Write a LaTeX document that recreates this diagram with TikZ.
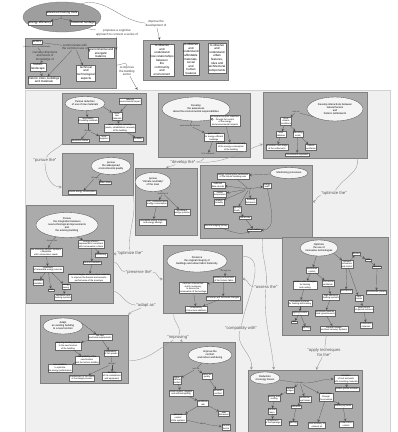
\documentclass[tikz,border=0pt]{standalone}
\usepackage{fontspec}
\setmainfont{Liberation Sans}
\usetikzlibrary{arrows,shapes}
\tikzstyle{field} = [draw=black!18, fill=black!6, line width=0.4pt, inner sep=0pt]
\tikzstyle{panel} = [draw=black!50, fill=black!33, line width=0.3pt, inner sep=0pt]
\tikzstyle{hub} = [ellipse, draw=black!55, fill=black!38, line width=0.3pt, inner sep=0pt]
\tikzstyle{goal} = [ellipse, draw=black!65, fill=black!4, line width=0.35pt, inner sep=0pt]
\tikzstyle{goaltext} = [align=center, inner sep=0pt, font=\fontsize{2.6}{3}\selectfont]
\tikzstyle{concept} = [draw=black!60, fill=white, line width=0.2pt, align=center, inner sep=0.6pt, font=\fontsize{2.2}{2.6}\selectfont]
\tikzstyle{bigconcept} = [concept, inner sep=0.8pt, font=\fontsize{3}{3.6}\selectfont]
\tikzstyle{link} = [align=center, inner sep=0.3pt, text=black!80, font=\fontsize{2}{2.4}\selectfont]
\tikzstyle{biglink} = [link, font=\fontsize{3}{3.6}\selectfont]
\tikzstyle{verb} = [align=center, inner sep=0.5pt, text=black!65, font=\fontsize{4.2}{5}\selectfont]
\tikzstyle{rel} = [draw=black!70, line width=0.2pt, ->, >=stealth]
\tikzstyle{tie} = [draw=black!70, line width=0.2pt]
\tikzstyle{wire} = [draw=black!40, line width=0.35pt, >=stealth]

\begin{document}
\begin{tikzpicture}[x=1pt,y=-1pt]
\useasboundingbox (0,0) rectangle (398,432);
\fill[white] (0,0) rectangle (398,432);

% top part
\node[hub, minimum width=78pt, minimum height=30pt] (core) at (62,17) {};
\node[bigconcept] (tools) at (62,13) {advanced training tools};
\node[bigconcept] (eff) at (40,23) {energy efficiency};
\node[bigconcept] (her) at (83,23) {historical heritage};
\node[link] (for) at (61,18.5) {for};
\draw[tie] (tools) -- (for);
\draw[rel] (for) -- (eff);
\draw[rel] (for) -- (her);

\node[biglink] (proposes) at (117,33) {proposes a cognitive\\approach to connect a series of};
\node[biglink] (improve) at (156,24) {improve the\\development of};

\node[panel, minimum width=91pt, minimum height=50pt] (left) at (70.5,63) {};
\node[panel, minimum width=85pt, minimum height=40pt] (right) at (185.5,60) {};

\node[bigconcept] (actors) at (37,42) {actors};
\node[link] (users) at (37,46.5) {(owners, users, professionals)};
\node[biglink] (communicate) at (75,47) {communicate with\\the common use of};
\node[biglink] (consider) at (45,56) {consider directions\\and levels of\\knowledge of};
\node[bigconcept] (landscape) at (38,67) {historic\\landscape};
\node[bigconcept] (cities) at (44,80) {historic cities, buildings\\and materials};
\node[bigconcept] (technical) at (86,73) {technical\\and\\technological\\aspects};
\node[bigconcept] (balance) at (101,53) {environmental and\\energetic\\balance};
\draw[tie] (actors) -- (communicate);
\draw[tie] (users) -- (consider);
\draw[rel] (consider) -- (landscape);
\draw[rel] (landscape) -- (cities);
\draw[rel] (communicate) -- (cities);
\draw[rel] (communicate) -- (technical);
\draw[rel] (communicate) -- (balance);

\node[bigconcept] (obsA) at (162,60) {to observe\\and\\understand\\how relationships\\between\\the\\community\\and\\environment};
\node[bigconcept] (obsB) at (191,59) {to observe\\and\\understand\\affordable\\materials,\\social\\and\\human\\features};
\node[bigconcept] (obsC) at (217,58) {to observe\\and\\understand\\urban\\features,\\rules and\\architectural\\components};

\node[field, minimum width=365pt, minimum height=346pt] (field) at (207.5,263) {};
\node[biglink] (sector) at (127,71) {to improve\\the building\\sector};

\draw[tie] (core.-25) -- (proposes);
\draw[rel] (proposes) -- (left.16);
\draw[tie] (core.35) to[out=15,in=175] (improve);
\draw[rel] (improve) -- (right.142);
\draw[tie] (left.-3) to[out=10,in=90] (sector);
\draw[rel] (sector) -- (field.112.7);

% panel A
\node[panel, minimum width=84pt, minimum height=51pt] (pA) at (104,118.5) {};
\node[goal, minimum width=40pt, minimum height=14pt] (gA) at (85,103.5) {};
\node[goaltext] (tA) at (gA) {Pursue reduction\\of use of raw materials};
\node[concept] (a1) at (130,101) {reduced\\environmental impact};
\node[concept] (a2) at (117,116) {local\\raw\\materials};
\node[concept] (a3) at (120,128) {reuse, recycle, recovery\\(waste, rehabilitation, renewal)\\of the building};
\node[concept] (a4) at (88,120) {recyclability\\of building materials};
\node[link] (a4by) at (88,131) {through};
\node[concept] (a5) at (80,140.5) {demolition waste};
\node[concept] (a6) at (104,138) {local\\suppliers};
\node[concept] (a7) at (138,139) {durability};
\draw[rel] (gA) -- (a4);
\draw[rel] (gA.-10) -- (a2);
\draw[rel] (a1) -- (a2);
\draw[rel] (a2) -- (a3);
\draw[rel] (a3) -- (a7);
\draw[tie] (a4) -- (a4by);
\draw[rel] (a4by) -- (a5);
\draw[rel] (a4by) -- (a6);

% panel B
\node[panel, minimum width=92pt, minimum height=64pt] (pB) at (204,125) {};
\node[goal, minimum width=68pt, minimum height=24pt] (gB) at (196,109) {};
\node[goaltext] (tB) at (gB) {Develop\\the awareness\\about the environmental responsibilities};
\node[link] (bvia) at (190,126) {environmental choices};
\node[concept] (b1) at (225,121) {ecological footprint reduction\\through the control\\of the energy\\and environmental impacts};
\node[concept] (b2) at (214,137) {green labels\\for energy-efficient\\buildings};
\node[concept] (b3) at (231,147) {LCA (Life Cycle Assessment)\\of the energy consumption\\of the building};
\node[link] (bstd) at (208,154) {LCA standards};
\draw[rel] (gB.-30) -- (b1);
\draw[tie] (gB) -- (bvia);
\draw[rel] (bvia) -- (b2);
\draw[rel] (b1) -- (b3);
\draw[rel] (b2) -- (bstd);

% panel C
\node[panel, minimum width=104pt, minimum height=66pt] (pC) at (315,125) {};
\node[goal, minimum width=56pt, minimum height=24pt] (gC) at (335,109) {};
\node[goaltext] (tC) at (gC) {Develop interactions between\\natural factors\\and\\historic settlements};
\node[link] (csuch) at (296,112) {such as};
\node[concept] (c1) at (286,121) {local\\climatic\\conditions};
\node[concept] (c2) at (281,134) {solar\\radiation};
\node[concept] (c3) at (298,134) {prevailing\\winds};
\node[concept] (c4) at (277,147) {orientation and shape\\of the settlements};
\node[concept] (c5) at (311,147) {natural\\ventilation};
\node[concept] (c6) at (297,154.5) {microclimate regulation};
\draw[tie] (gC.200) -- (csuch);
\draw[rel] (csuch) -- (c1);
\draw[rel] (c1) -- (c2);
\draw[rel] (c1) -- (c3);
\draw[rel] (c2) -- (c4);
\draw[rel] (c3) -- (c5);
\draw[rel] (c3) -- (c6);

% panel D
\node[panel, minimum width=71pt, minimum height=42pt] (pD) at (97.5,174) {};
\node[goal, minimum width=40pt, minimum height=17pt] (gD) at (111,166) {};
\node[goaltext] (tD) at (gD) {pursue\\the widespread\\environmental quality};
\node[link] (dvia) at (95,178) {through};
\node[concept] (d1) at (105,183) {urban scale};
\node[concept] (d2) at (82,192) {shared energy consumption};
\draw[tie] (gD) -- (dvia);
\draw[rel] (dvia) -- (d1);
\draw[rel] (dvia) -- (d2);

% panel E
\node[panel, minimum width=62pt, minimum height=67pt] (pE) at (166,201.5) {};
\node[goal, minimum width=36pt, minimum height=19pt] (gE) at (153,182) {};
\node[goaltext] (tE) at (gE) {pursue\\``climate neutrality''\\of the town};
\node[link] (evia) at (163,193.5) {reduction of};
\node[concept] (e1) at (157,203) {CO\textsubscript{2} emissions and\\energy consumption};
\node[concept] (e2) at (182,212) {by efficient\\energy systems};
\node[concept] (e3) at (153,222) {renewable energy sources\\and energy savings};
\draw[tie] (gE) -- (evia);
\draw[rel] (evia) -- (e1);
\draw[rel] (evia) -- (e2);
\draw[rel] (e1) -- (e3);

% panel F
\node[panel, minimum width=112pt, minimum height=73pt] (pF) at (256,201.5) {};
\node[goal, minimum width=38pt, minimum height=11pt] (gF) at (289,173) {};
\node[goaltext] (tF) at (gF) {Monitoring processes};
\node[concept] (f1) at (233,176) {energy consumption verification\\of the historic building uses};
\node[link] (fvia) at (249,189) {through};
\node[concept] (f2) at (218,185) {sufficient\\data records};
\node[concept] (f3) at (267,186) {energy\\audit};
\node[concept] (f4) at (220,194) {indoor\\temperature};
\node[concept] (f5) at (219,202) {relative\\humidity};
\node[concept] (f6) at (251,201) {building\\behaviour};
\node[concept] (f7) at (237,209) {lighting\\levels};
\node[concept] (f8) at (245,218) {rate of use};
\node[concept] (f9) at (216,226) {thermal imaging survey};
\node[concept] (f10) at (254,230) {smart meters};
\draw[rel] (gF) -- (f1);
\draw[tie] (f1) -- (fvia);
\draw[rel] (fvia) -- (f2);
\draw[rel] (fvia) -- (f3);
\draw[rel] (fvia) -- (f4);
\draw[rel] (fvia) -- (f5);
\draw[rel] (fvia) -- (f6);
\draw[rel] (fvia) -- (f7);
\draw[rel] (f7) -- (f8);
\draw[rel] (f8) -- (f10);
\draw[rel] (f9) to[out=-20,in=200] (f10);
\draw[rel] (f3) to[out=-80,in=0] (f10);

% panel G
\node[panel, minimum width=87pt, minimum height=98pt] (pG) at (69.5,254) {};
\node[goal, minimum width=62pt, minimum height=25pt] (gG) at (67,225) {};
\node[goaltext] (tG) at (gG) {Pursue\\the integration between\\new technological improvements\\and\\the existing building};
\node[link] (gvia) at (52,241) {through the};
\node[concept] (g1) at (46,252) {use of energy-efficient systems\\compatible\\with conservation needs};
\node[concept] (g2) at (91,244) {energy-efficient\\improvements consistent\\with conservation criteria};
\node[concept] (g3) at (101,255) {monitoring};
\node[concept] (g4) at (92,263) {thermal insulation};
\node[concept] (g5) at (48,269) {installation\\of renewable energy sources};
\node[concept] (g6) at (89,278) {new technologies and innovative materials\\to improve the thermal and acoustic\\performance of the envelope};
\node[concept] (g7) at (38,282) {improved\\insulation};
\node[concept] (g8) at (51,290) {costs};
\node[concept] (g9) at (66,286.5) {energy\\saving};
\node[concept] (g10) at (63,297) {ventilation and\\heating systems};
\draw[tie] (gG) -- (gvia);
\draw[rel] (gvia) -- (g1);
\draw[rel] (gG.-50) -- (g2);
\draw[rel] (g2) -- (g3);
\draw[rel] (g2) -- (g4);
\draw[rel] (g4) -- (g6);
\draw[rel] (g1) -- (g5);
\draw[rel] (g5) -- (g7);
\draw[rel] (g5) -- (g8);
\draw[rel] (g5) -- (g9);
\draw[rel] (g9) -- (g10);

% panel H
\node[panel, minimum width=79pt, minimum height=68pt] (pH) at (202.5,279) {};
\node[goal, minimum width=60pt, minimum height=22pt] (gH) at (197,261) {};
\node[goaltext] (tH) at (gH) {Preserve\\the original integrity of\\buildings and urban fabric historicity};
\node[link] (hvia) at (226,271) {through the};
\node[concept] (h1) at (224,279) {building components\\of the historic fabric};
\node[concept] (h2) at (193,288) {minimum intervention\\strictly necessary\\to ensure the\\preservation of the heritage};
\node[concept] (h3) at (223,298) {structural and functional changes};
\node[concept] (h4) at (196,309) {compatibility\\of structural additions};
\draw[tie] (gH) -- (hvia);
\draw[rel] (hvia) -- (h1);
\draw[rel] (h1) -- (h2);
\draw[rel] (h1) -- (h3);
\draw[rel] (h2) -- (h4);
\draw[rel] (h3) -- (h4);

% panel I
\node[panel, minimum width=106pt, minimum height=98pt] (pI) at (335,286) {};
\node[goal, minimum width=38pt, minimum height=16pt] (gI) at (319,248) {};
\node[goaltext] (tI) at (gI) {Optimize\\the use of\\innovative technologies};
\node[concept] (i1) at (347,264) {systems\\innovation\\and control};
\node[concept] (i2) at (312,270) {automated\\control};
\node[concept] (i3) at (356,254) {devices};
\node[concept] (i4) at (368,260) {BMS};
\node[concept] (i5) at (377,267) {sensors};
\node[concept] (i6) at (305,285) {passive solar strategies\\for heating\\and cooling};
\node[concept] (i7) at (328,283) {mechanical\\ventilation};
\node[concept] (i8) at (346,291) {geothermal};
\node[concept] (i9) at (359,298) {heat\\pumps};
\node[concept] (i10) at (376.5,292) {photovoltaic panels};
\node[concept] (i11) at (331,297) {high efficiency\\heating systems};
\node[concept] (i12) at (300,303) {innovative systems\\for heating and cooling};
\node[concept] (i13) at (300,313) {lighting control};
\node[concept] (i14) at (325,313) {bioclimatic devices\\(solar greenhouses)};
\node[concept] (i15) at (364,309) {solar control\\of glazed surfaces};
\node[concept] (i16) at (294,322) {LED};
\node[concept] (i17) at (306,328) {lighting};
\node[concept] (i18) at (334,329) {thermal storage\\and heat recovery systems};
\node[concept] (i19) at (366,325) {sustainable\\materials};
\draw[rel] (gI) -- (i2);
\draw[rel] (gI.-20) -- (i1);
\draw[rel] (i1) -- (i3);
\draw[rel] (i3) -- (i4);
\draw[rel] (i4) -- (i5);
\draw[rel] (i5) -- (i10);
\draw[rel] (i1) -- (i8);
\draw[rel] (i1) -- (i9);
\draw[rel] (i2) -- (i6);
\draw[rel] (i2) -- (i7);
\draw[rel] (i7) -- (i11);
\draw[rel] (i6) -- (i12);
\draw[rel] (i12) -- (i13);
\draw[rel] (i13) -- (i16);
\draw[rel] (i13) -- (i17);
\draw[rel] (i11) -- (i14);
\draw[rel] (i14) -- (i18);
\draw[rel] (i9) -- (i15);
\draw[rel] (i15) -- (i19);

% panel J
\node[panel, minimum width=88pt, minimum height=68pt] (pJ) at (84,349) {};
\node[goal, minimum width=40pt, minimum height=16pt] (gJ) at (63,326) {};
\node[goaltext] (tJ) at (gJ) {Adapt\\an existing building\\to a new function};
\node[concept] (j1) at (100,337) {the new\\functional requirements};
\node[concept] (j2) at (68,346) {adapting building spaces\\to the new function\\of the building};
\node[concept] (j3) at (111,353) {adaptability\\of the spaces};
\node[concept] (j4) at (87,360) {compatibility of the\\new function\\with the historic building};
\node[concept] (j5) at (60,368) {new solutions\\to optimize\\the energy performance};
\node[concept] (j6) at (82,378) {involvement of the users\\in the design process};
\node[concept] (j7) at (112,376) {flexibility\\of the installations\\and equipment};
\node[link] (jvia) at (112,364) {through};
\draw[rel] (gJ.10) -- (j1);
\draw[rel] (j1) -- (j2);
\draw[rel] (j1) -- (j3);
\draw[rel] (j2) -- (j4);
\draw[rel] (j4) -- (j5);
\draw[tie] (j3) -- (jvia);
\draw[rel] (jvia) -- (j7);
\draw[rel] (jvia) -- (j6);

% panel K
\node[panel, minimum width=72pt, minimum height=90pt] (pK) at (199,387) {};
\node[goal, minimum width=44pt, minimum height=17pt] (gK) at (210,355) {};
\node[goaltext] (tK) at (gK) {Improve the\\comfort\\and indoor well-being};
\node[link] (kvia) at (196,369) {such as};
\node[concept] (k1) at (177,380) {hygro-\\thermal\\comfort};
\node[concept] (k2) at (207,376) {indoor air\\quality};
\node[concept] (k3) at (181,393) {visual comfort: daylight\\and artificial lighting};
\node[concept] (k4) at (218,392) {acoustic\\comfort};
\node[concept] (k5) at (203,403) {ventilation\\rate};
\node[concept] (k6) at (224,414) {user\\behaviour};
\node[concept] (k7) at (178,418) {personal\\control\\of the systems};
\node[link] (kvia2) at (203,424) {affects};
\node[concept] (k8) at (226,427) {thermal\\inertia};
\draw[tie] (gK) -- (kvia);
\draw[rel] (kvia) -- (k1);
\draw[rel] (kvia) -- (k2);
\draw[rel] (k1) -- (k3);
\draw[rel] (k2) -- (k4);
\draw[rel] (k3) -- (k5);
\draw[rel] (k5) -- (k6);
\draw[rel] (k5) -- (k7);
\draw[tie] (k7) -- (kvia2);
\draw[rel] (kvia2) -- (k8);

% panel L
\node[panel, minimum width=114pt, minimum height=62pt] (pL) at (305,401) {};
\node[goal, minimum width=30pt, minimum height=12pt] (gL) at (265,378) {};
\node[goaltext] (tL) at (gL) {Reduction\\of energy losses};
\node[concept] (l1) at (346,379) {insulation\\of roof and walls\\with insulating materials};
\node[link] (lvia) at (300,383) {through};
\node[concept] (l2) at (290,390) {thermal\\bridges};
\node[concept] (l3) at (347,389) {double-glazed windows};
\node[concept] (l4) at (274,398) {heating and\\cooling};
\node[concept] (l5) at (305,399) {ventilation\\heat losses};
\node[concept] (l6) at (326,397) {heat losses\\through\\the envelope};
\node[concept] (l7) at (272,411) {thermal\\mass};
\node[concept] (l8) at (296,407) {infiltration};
\node[concept] (l9) at (343,406) {shading systems};
\node[concept] (l10) at (273,422) {airtightness\\of the openings};
\node[concept] (l11) at (293,423) {glazing};
\node[concept] (l12) at (317,425) {heat recovery of\\exhaust air};
\node[concept] (l13) at (346,424) {condensation\\control};
\draw[tie] (gL) -- (lvia);
\draw[rel] (lvia) to[out=0,in=180] (l1);
\draw[rel] (lvia) -- (l2);
\draw[rel] (lvia) -- (l5);
\draw[rel] (lvia) -- (l6);
\draw[rel] (l1) -- (l3);
\draw[rel] (l2) -- (l4);
\draw[rel] (l4) -- (l7);
\draw[rel] (l5) -- (l8);
\draw[rel] (l8) -- (l11);
\draw[rel] (l7) -- (l10);
\draw[rel] (l6) -- (l9);
\draw[rel] (l9) -- (l13);
\draw[rel] (l6) -- (l12);

% links between the goals
\node[verb] (vPursue) at (45,160) {``pursue the''};
\node[verb] (vDevelop) at (183,162) {``develop the''};
\node[verb] (vOptA) at (334,193) {``optimize the''};
\node[verb] (vOptB) at (130,253) {``optimize the''};
\node[verb] (vPreserve) at (139,272) {``preserve the''};
\node[verb] (vAssess) at (266,287) {``assess the''};
\node[verb] (vAdapt) at (146,305) {``adapt as''};
\node[verb] (vCompat) at (241,328) {``compatibly with''};
\node[verb] (vImprove) at (178,337.5) {``improving''};
\node[verb] (vApply) at (324,352) {``apply techniques\\for the''};

\draw[wire] (pA.south west) to[out=225,in=60] (vPursue);
\draw[wire,->] (vPursue) to[out=-90,in=180] (pD.200);
\draw[wire] (pB.south) to[out=-100,in=0] (vDevelop);
\draw[wire,->] (vDevelop) -- (pE.north);
\draw[wire,->] (vDevelop.east) to[out=-5,in=200] (pC.200);
\draw[wire] (pC.-38) to[out=-80,in=60] (vOptA);
\draw[wire,->] (vOptA) to[out=190,in=0] (pF.east);
\draw[wire] (pD.south east) to[out=-80,in=95] (vOptB);
\draw[wire,->] (vOptB) -- (pG.east);
\draw[wire] (pG.-10.4) to[out=0,in=180] (vPreserve);
\draw[wire,->] (vPreserve.east) to[out=0,in=180] (pH.west);
\draw[wire] (pF.-80) to[out=-95,in=85] (vAssess);
\draw[wire,->] (vAssess) to[out=180,in=0] (pH.east);
\draw[wire,->] (vAssess) to[out=-95,in=95] (pL.135);
\draw[wire] (pH.30) to[out=0,in=80] (vCompat);
\draw[wire,->] (vCompat) to[out=-110,in=80] (pL.150);
\draw[wire] (pI.-100) to[out=-100,in=80] (vApply);
\draw[wire,->] (vApply) to[out=-110,in=75] (pL.70);
\draw[wire] (pG.-40) to[out=-20,in=180] (vAdapt);
\draw[wire,->] (vAdapt) to[out=-150,in=45] (pJ.north east);
\draw[wire] (pH.-130) to[out=-100,in=70] (vImprove);
\draw[wire] (pJ.-15) to[out=0,in=210] (vImprove);
\draw[wire,->] (vImprove) -- (pK.110);
\end{tikzpicture}
\end{document}
